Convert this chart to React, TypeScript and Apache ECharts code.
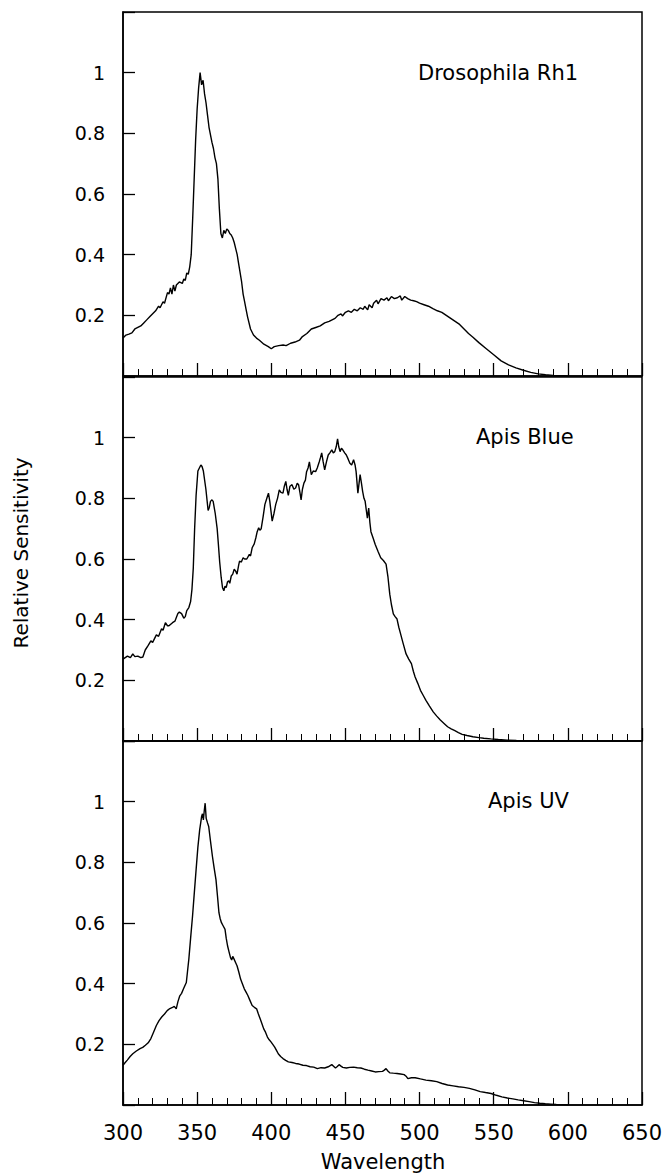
import React, { useEffect, useRef } from "react";
import * as echarts from "echarts";

const PANEL_TITLES = ["Drosophila Rh1", "Apis Blue", "Apis UV"];
const X_TITLE = "Wavelength";
const Y_TITLE = "Relative Sensitivity";
const X_MIN = 300;
const X_MAX = 650;
const X_STEP = 50;
const Y_MIN = 0;
const Y_MAX = 1.2;
const Y_STEP = 0.2;

const DROSOPHILA_RH1: number[][] = [
  [300,0.125],[302,0.135],[304,0.138],[306,0.142],[308,0.155],[310,0.16],[312,0.165],[314,0.175],[316,0.185],[318,0.195],
  [320,0.205],[322,0.215],[324,0.23],[325,0.225],[327,0.245],[328,0.24],[330,0.275],[331,0.27],[332,0.29],[333,0.27],
  [334,0.3],[335,0.28],[336,0.3],[338,0.31],[340,0.305],[341,0.32],[342,0.315],[343,0.34],[344,0.335],[345,0.36],
  [346,0.4],[347,0.52],[348,0.65],[349,0.78],[350,0.88],[351,0.95],[352,1.0],[353,0.96],[354,0.975],[355,0.93],
  [356,0.9],[357,0.86],[358,0.82],[360,0.77],[361,0.75],[362,0.72],[363,0.7],[364,0.65],[365,0.55],[366,0.47],
  [367,0.455],[368,0.48],[369,0.47],[370,0.485],[371,0.48],[372,0.47],[373,0.465],[374,0.455],[375,0.44],[376,0.42],
  [377,0.4],[378,0.37],[379,0.34],[380,0.31],[381,0.27],[382,0.245],[383,0.22],[384,0.195],[386,0.155],[388,0.135],
  [390,0.125],[392,0.118],[395,0.105],[398,0.097],[400,0.09],[402,0.097],[405,0.1],[408,0.102],[410,0.1],[413,0.108],
  [416,0.112],[419,0.118],[421,0.13],[424,0.14],[427,0.155],[430,0.16],[433,0.165],[436,0.175],[439,0.18],[441,0.185],
  [443,0.19],[445,0.2],[447,0.205],[448,0.198],[450,0.21],[452,0.215],[454,0.21],[456,0.22],[458,0.215],[460,0.225],
  [462,0.22],[463,0.23],[465,0.218],[466,0.235],[468,0.225],[469,0.24],[471,0.25],[472,0.238],[474,0.255],[476,0.25],
  [478,0.258],[479,0.248],[481,0.262],[483,0.255],[485,0.258],[487,0.264],[488,0.25],[490,0.262],[492,0.255],[494,0.25],
  [496,0.248],[498,0.245],[500,0.24],[503,0.235],[506,0.23],[509,0.222],[512,0.215],[515,0.21],[518,0.2],[521,0.19],
  [524,0.18],[527,0.17],[530,0.155],[533,0.14],[536,0.128],[540,0.11],[545,0.09],[550,0.07],[555,0.05],[560,0.037],
  [565,0.027],[570,0.019],[575,0.012],[580,0.007],[585,0.004],[590,0.002],[596,0.001],[600,0]
];

const APIS_BLUE: number[][] = [
  [300,0.27],[303,0.28],[305,0.275],[306.6,0.287],[308,0.278],[310,0.28],[312,0.275],[313.4,0.277],[315,0.3],[317,0.315],
  [318.8,0.33],[320,0.325],[322.5,0.35],[324,0.345],[326,0.37],[327,0.365],[328.6,0.39],[330,0.38],[331,0.38],[333.4,0.39],
  [335,0.395],[337,0.42],[338,0.425],[339.5,0.42],[341,0.405],[342,0.41],[343,0.43],[344.4,0.44],[345.6,0.46],[346.5,0.5],
  [347.4,0.57],[348.3,0.7],[349.3,0.81],[350.5,0.89],[351.5,0.9],[352.5,0.91],[353.3,0.905],[354.2,0.89],[355.9,0.83],[357.4,0.76],
  [358.2,0.77],[359,0.79],[360,0.795],[360.8,0.79],[362.2,0.75],[363.5,0.7],[364.3,0.65],[365.2,0.59],[366.2,0.54],[367.1,0.506],
  [368,0.495],[368.8,0.51],[369.6,0.506],[370.5,0.525],[371.3,0.528],[372,0.52],[373,0.544],[374,0.55],[375,0.566],[376,0.56],
  [376.9,0.55],[378,0.58],[378.6,0.593],[379.8,0.59],[381,0.604],[382,0.6],[383.5,0.6],[385.2,0.615],[386,0.61],[387.1,0.637],
  [388.5,0.65],[389.6,0.67],[390.5,0.69],[391.5,0.703],[392.3,0.695],[393.2,0.7],[394.5,0.74],[395.7,0.78],[397,0.8],[398.1,0.817],
  [399,0.79],[400.6,0.725],[401.8,0.75],[403,0.78],[404.2,0.8],[405.4,0.828],[406.5,0.82],[407.9,0.817],[408.8,0.84],[409.8,0.856],
  [410.6,0.83],[411.5,0.81],[412.6,0.84],[414,0.845],[415.2,0.83],[416.4,0.834],[417.5,0.85],[418.4,0.845],[419.3,0.82],[420.1,0.795],
  [421,0.83],[422,0.85],[423,0.86],[423.8,0.888],[424.8,0.9],[425.7,0.92],[426.3,0.9],[427,0.878],[428.3,0.89],[429.9,0.888],
  [431,0.9],[432.3,0.92],[433.2,0.935],[434,0.95],[435,0.92],[436,0.894],[437.2,0.92],[438.4,0.943],[439.5,0.95],[440.8,0.96],
  [441.8,0.95],[442.8,0.954],[443.8,0.97],[444.7,0.996],[445.5,0.97],[446.4,0.954],[447.3,0.965],[448.2,0.96],[449.5,0.95],[450.6,0.943],
  [451.8,0.93],[453,0.916],[454.2,0.91],[455.5,0.927],[456.5,0.91],[457.2,0.888],[458.4,0.817],[459.2,0.85],[459.9,0.878],[460.8,0.85],
  [461.6,0.823],[462.5,0.8],[463.3,0.79],[464.1,0.76],[464.8,0.735],[465.7,0.768],[466.5,0.72],[467.2,0.69],[468.6,0.67],[470.1,0.648],
  [472,0.625],[473.8,0.604],[475.6,0.595],[477.4,0.583],[478.7,0.54],[479.9,0.484],[481,0.45],[482.3,0.419],[483.5,0.41],[484.8,0.402],
  [486,0.375],[487.2,0.353],[489,0.32],[490.9,0.287],[492.7,0.27],[494.5,0.255],[495.8,0.23],[497,0.211],[498.8,0.19],[500.6,0.167],
  [502.5,0.15],[504.3,0.134],[506.7,0.115],[509.2,0.096],[511.6,0.082],[514,0.069],[516.5,0.058],[518.9,0.047],[521.3,0.04],[523.8,0.034],
  [526.2,0.028],[528.7,0.022],[532,0.018],[536,0.014],[540,0.011],[543.3,0.009],[548,0.007],[553.1,0.005],[559,0.003],[565.3,0.002],
  [577.5,0.001],[590,0.0005],[600,0]
];

const APIS_UV: number[][] = [
  [300,0.131],[301.5,0.14],[302.9,0.148],[304.8,0.16],[306.6,0.169],[309,0.178],[311.5,0.186],[313.3,0.19],[315.1,0.197],[317,0.205],
  [318.8,0.219],[320.6,0.24],[322.5,0.262],[324.3,0.278],[326.1,0.29],[328,0.3],[329.8,0.311],[331.6,0.318],[333.4,0.322],[334.6,0.325],
  [335.9,0.317],[337,0.34],[338.3,0.36],[339.5,0.368],[340.8,0.383],[342.7,0.404],[343.5,0.44],[344.4,0.481],[345.6,0.55],[346.9,0.623],
  [348.1,0.7],[349.3,0.776],[350.5,0.85],[351.7,0.907],[352.4,0.93],[353,0.951],[353.6,0.96],[354.2,0.94],[354.8,0.97],[355.4,0.995],
  [356.1,0.945],[357,0.93],[357.8,0.918],[359,0.87],[360.3,0.82],[361.5,0.78],[362.7,0.743],[363.7,0.69],[364.7,0.634],[365.5,0.615],
  [366.4,0.601],[367.6,0.59],[368.8,0.579],[369.6,0.55],[370.5,0.525],[371.5,0.505],[372.5,0.486],[373.3,0.478],[374,0.49],[374.9,0.481],
  [375.9,0.47],[376.9,0.459],[378,0.44],[379.3,0.415],[380.5,0.4],[381.8,0.383],[383,0.372],[384.2,0.361],[385.6,0.345],[387.1,0.328],
  [388.6,0.322],[390.1,0.317],[391.3,0.3],[392.5,0.284],[393.7,0.268],[394.9,0.251],[396.1,0.24],[397.4,0.224],[398.6,0.215],[399.8,0.208],
  [401,0.2],[402.3,0.191],[403.5,0.18],[404.7,0.169],[406.3,0.16],[407.9,0.153],[409.7,0.147],[411.5,0.142],[414,0.14],[416.4,0.137],
  [418.8,0.135],[421.3,0.131],[423.7,0.13],[426.2,0.126],[428.6,0.125],[431.1,0.12],[433.5,0.123],[436,0.122],[438.4,0.126],[440.8,0.133],
  [442,0.128],[443.3,0.122],[444.5,0.127],[445.7,0.133],[447,0.128],[448.2,0.124],[450.6,0.122],[453,0.124],[455.5,0.125],[458,0.123],
  [460.4,0.122],[462.8,0.118],[465.2,0.115],[467.7,0.112],[470.1,0.109],[472.5,0.11],[475,0.111],[476.2,0.115],[477.4,0.12],[478.6,0.112],
  [479.9,0.106],[482.3,0.105],[484.8,0.104],[487.2,0.102],[489.6,0.1],[490.9,0.095],[492.1,0.087],[494.5,0.09],[497,0.09],[500.6,0.086],
  [504.3,0.082],[508,0.08],[511.6,0.077],[515.2,0.071],[518.9,0.066],[522.6,0.063],[526.3,0.06],[530,0.058],[533.6,0.055],[537.3,0.05],
  [540.9,0.044],[544.5,0.041],[548.2,0.038],[551.8,0.032],[555.5,0.027],[559.2,0.023],[562.9,0.02],[566.5,0.017],[570.2,0.014],[573.9,0.011],
  [577.5,0.008],[581.1,0.006],[584.8,0.004],[588.5,0.003],[592.2,0.002],[598.3,0.001],[600,0]
];

const SERIES_DATA = [DROSOPHILA_RH1, APIS_BLUE, APIS_UV];

export default function App() {
  const ref = useRef<HTMLDivElement>(null);

  useEffect(() => {
    if (!ref.current) return;
    const chart = echarts.init(ref.current, null, { renderer: "svg" });
    const tops = [12, 377, 741];
    const font = "'DejaVu Sans', 'Liberation Sans', Arial, sans-serif";
    const titlePos = [
      { x: 418, y: 74 },
      { x: 476, y: 438 },
      { x: 488, y: 802 },
    ];

    const option: any = {
      animation: false,
      backgroundColor: "#ffffff",
      grid: tops.map((t) => ({
        left: 123,
        right: 26,
        top: t,
        height: 364,
        show: true,
        borderColor: "#000",
        borderWidth: 1.5,
        backgroundColor: "transparent",
      })),
      xAxis: tops.map((_, i) => ({
        type: "value",
        gridIndex: i,
        min: X_MIN,
        max: X_MAX,
        interval: X_STEP,
        axisLine: { show: true, onZero: false, lineStyle: { color: "#000", width: 1.5 } },
        axisTick: { show: true, inside: true, length: 13, lineStyle: { color: "#000", width: 1.3 } },
        minorTick: { show: true, splitNumber: 5, length: 7, lineStyle: { color: "#000", width: 1 } },
        splitLine: { show: false },
        minorSplitLine: { show: false },
        axisLabel: {
          show: i === 2,
          margin: 17,
          fontSize: 21,
          fontFamily: font,
          color: "#000",
        },
      })),
      yAxis: tops.map((_, i) => ({
        type: "value",
        gridIndex: i,
        min: Y_MIN,
        max: Y_MAX,
        interval: Y_STEP,
        axisLine: { show: true, onZero: false, lineStyle: { color: "#000", width: 1.5 } },
        axisTick: { show: true, inside: true, length: 12, lineStyle: { color: "#000", width: 1.3 } },
        splitLine: { show: false },
        axisLabel: {
          margin: 18,
          fontSize: 19,
          fontFamily: font,
          color: "#000",
          formatter: (v: number) => {
            const r = Math.round(v * 10) / 10;
            if (r <= 0.01 || r > 1.1) return "";
            return String(r);
          },
        },
      })),
      series: SERIES_DATA.map((d, i) => ({
        type: "line",
        xAxisIndex: i,
        yAxisIndex: i,
        data: d,
        showSymbol: false,
        symbol: "none",
        lineStyle: { color: "#000", width: 1.4 },
        silent: true,
      })),
      graphic: [
        ...PANEL_TITLES.map((t, i) => ({
          type: "text",
          left: titlePos[i].x,
          top: titlePos[i].y - 12,
          style: { text: t, fontSize: 21, fontFamily: font, fill: "#000" },
        })),
        {
          type: "text",
          x: 383,
          y: 1162,
          style: {
            text: X_TITLE,
            fontSize: 21,
            fontFamily: font,
            fill: "#000",
            align: "center",
            verticalAlign: "middle",
          },
        },
        {
          type: "text",
          x: 21,
          y: 553,
          rotation: Math.PI / 2,
          style: {
            text: Y_TITLE,
            fontSize: 20,
            fontFamily: font,
            fill: "#000",
            align: "center",
            verticalAlign: "middle",
          },
        },
      ],
    };

    chart.setOption(option);
    return () => chart.dispose();
  }, []);

  return (
    <div
      ref={ref}
      style={{ position: "fixed", left: 0, top: 0, width: 668, height: 1173, background: "#fff" }}
    />
  );
}
